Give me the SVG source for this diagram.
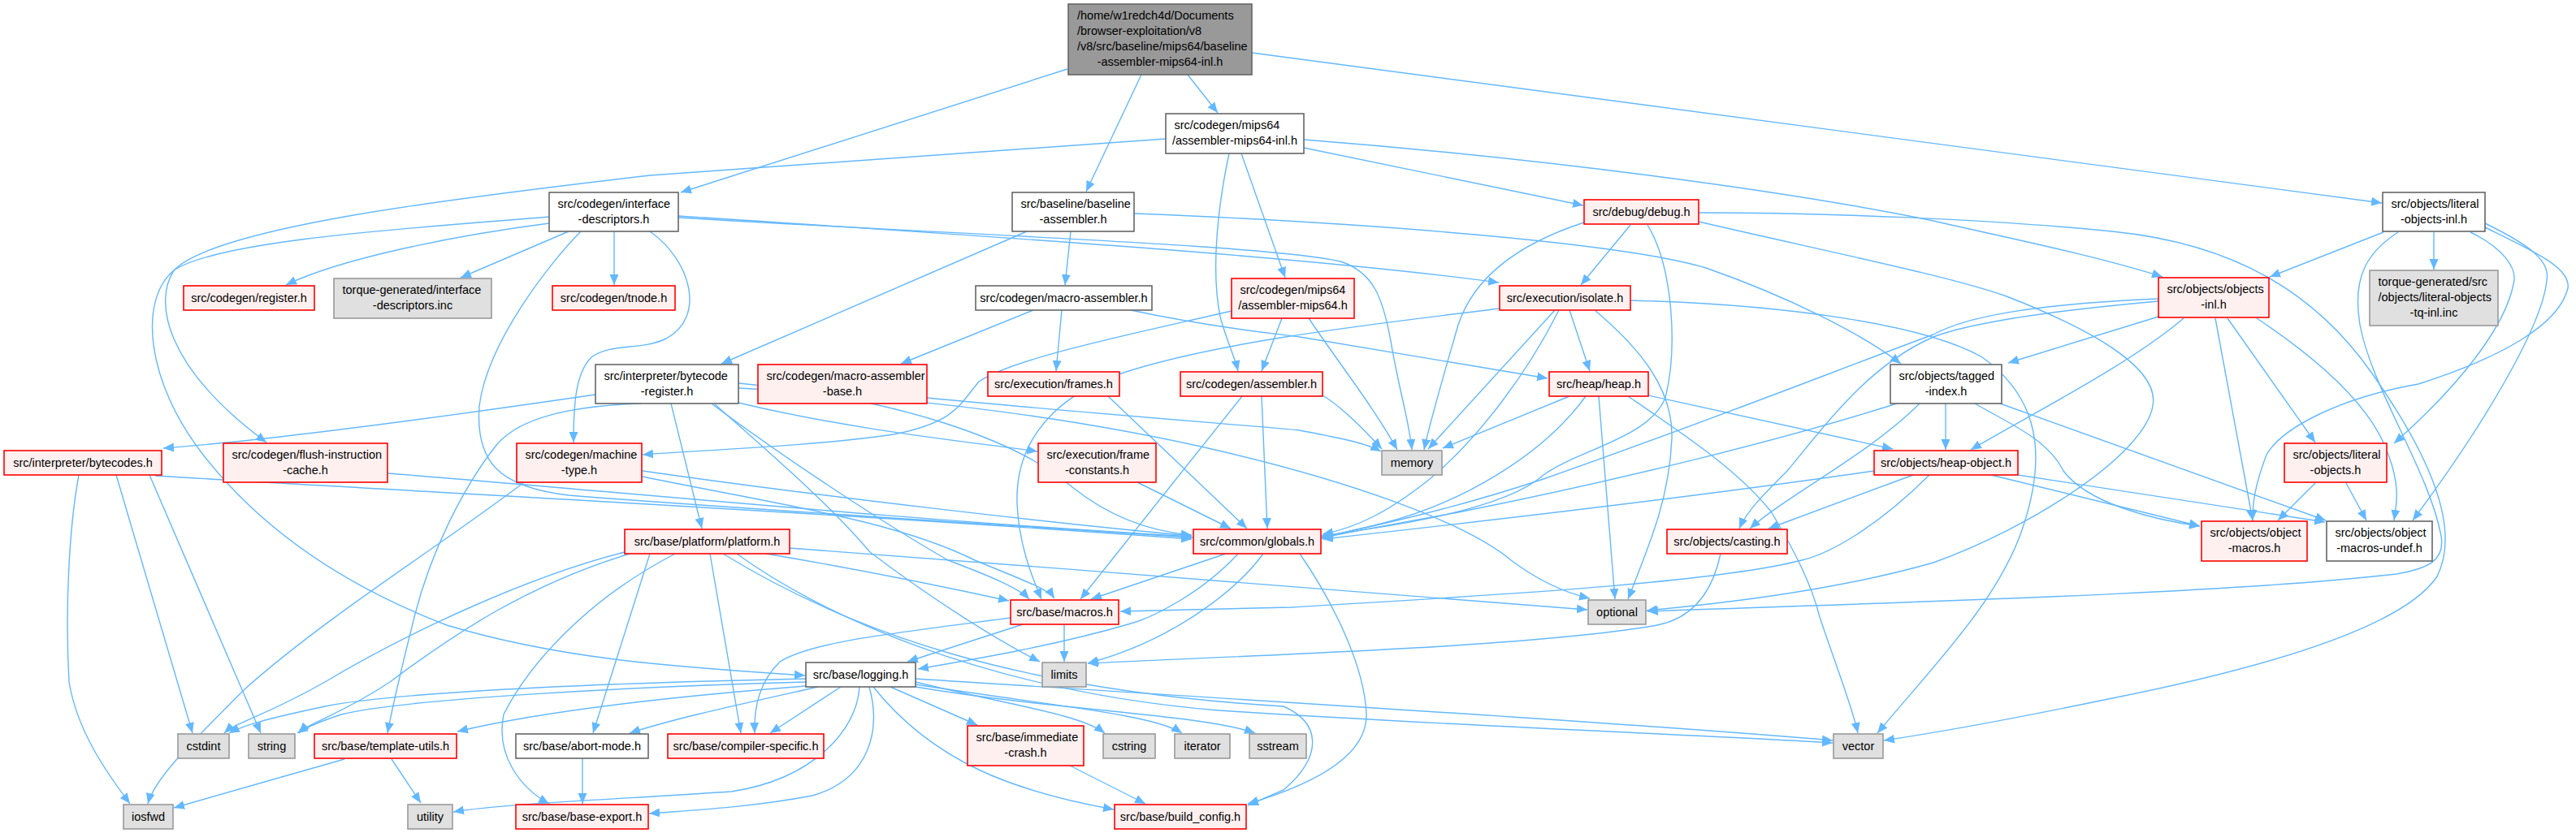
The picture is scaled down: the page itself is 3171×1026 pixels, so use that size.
<svg xmlns="http://www.w3.org/2000/svg" width="3171" height="1026" viewBox="0 0 3171 1026">
<style>
rect{stroke-width:1.6}
.w rect{fill:#ffffff;stroke:#666666}
.r rect{fill:#fff0f0;stroke:#ff0000}
.x rect{fill:#e0e0e0;stroke:#999999}
.root rect{fill:#999999;stroke:#666666}
text{font-family:"Liberation Sans",Arial,sans-serif;font-size:14.5px;fill:#000}
.m{text-anchor:middle}
#edges path{fill:none;stroke:#63b8ff;stroke-width:1.4;marker-end:url(#a)}
</style>
<defs>
<marker id="a" viewBox="0 -6 14 12" refX="13" refY="0" markerWidth="14" markerHeight="12" markerUnits="userSpaceOnUse" orient="auto"><path d="M0,-5.5L13,0L0,5.5z" fill="#63b8ff"/></marker>
</defs>
<rect x="0" y="0" width="3171" height="1026" fill="#ffffff"/>
<g id="edges">
<path d="M1314,85 L838,237"/>
<path d="M1405,92 L1337,236"/>
<path d="M1462,92 L1499,139"/>
<path d="M1541,65 L2932,250"/>
<path d="M1435,171 C1150,190 950,205 800,216 C550,245 265,280 214,333 C190,370 200,450 328,545"/>
<path d="M1513,189 C1500,250 1490,330 1502,390 C1510,420 1520,440 1524,457"/>
<path d="M1528,189 L1582,342"/>
<path d="M1605,182 L1949,253"/>
<path d="M1605,172 C1900,195 2200,235 2380,272 C2480,295 2580,315 2662,341"/>
<path d="M676,275 C560,290 420,318 352,351"/>
<path d="M700,285 L567,342"/>
<path d="M756,285 L756,351"/>
<path d="M800,285 C850,320 870,390 820,417 C790,432 752,422 728,440 C708,460 706,500 706,545"/>
<path d="M715,285 C680,320 600,420 590,500 C585,570 615,600 700,610 C950,630 1300,650 1468,662"/>
<path d="M676,267 C520,280 270,295 214,333 C170,370 180,470 250,560 C320,650 420,720 550,770 C700,815 850,822 991,832"/>
<path d="M835,266 C1200,290 1600,315 1845,348"/>
<path d="M835,268 C1200,290 1560,302 1650,322 C1690,335 1702,365 1712,420 C1722,480 1735,520 1738,554"/>
<path d="M1318,285 L1311,351"/>
<path d="M1264,285 L888,448"/>
<path d="M1396,263 C1700,275 2000,300 2100,330 C2200,365 2290,410 2340,448"/>
<path d="M2007,277 L1946,351"/>
<path d="M1950,274 C1870,300 1815,340 1795,400 C1775,470 1760,520 1753,554"/>
<path d="M2028,277 C2060,330 2065,430 2050,490 C2030,540 1940,555 1900,585 C1850,630 1700,650 1627,660"/>
<path d="M2091,273 C2250,310 2400,340 2470,365 C2560,400 2660,450 2650,500 C2640,560 2500,650 2380,693 C2250,730 2100,745 2027,752"/>
<path d="M2091,262 C2250,262 2450,270 2600,285 C2750,300 2850,360 2920,460 C2990,560 3030,650 3000,710 C2960,770 2800,820 2600,860 C2480,885 2400,900 2319,912"/>
<path d="M2934,286 L2794,341"/>
<path d="M2996,286 L2996,332"/>
<path d="M3041,286 C3080,305 3100,330 3094,350 C3084,400 3033,470 2947,546"/>
<path d="M3059,275 C3110,300 3140,320 3135,345 C3130,400 3060,520 2970,641"/>
<path d="M3059,280 C3120,310 3165,330 3161,355 C3150,400 3080,440 2977,473 C2880,490 2809,527 2790,560 C2775,600 2773,620 2773,641"/>
<path d="M2952,286 C2915,310 2895,340 2905,400 C2920,480 2990,580 3005,660 C3010,690 2990,700 2950,707 C2750,730 2400,740 2028,753"/>
<path d="M2657,390 L2472,447"/>
<path d="M2688,392 C2620,450 2500,510 2426,554"/>
<path d="M2742,392 L2850,545"/>
<path d="M2727,392 L2773,641"/>
<path d="M2778,392 C2850,440 2920,500 2940,560 C2955,600 2950,620 2947,641"/>
<path d="M2657,371 C2500,385 2420,400 2380,415 C2300,450 2250,520 2200,580 C2170,610 2150,630 2141,651"/>
<path d="M2657,368 C2500,375 2420,390 2380,412 C2250,460 2100,520 1900,590 C1780,630 1680,650 1627,662"/>
<path d="M2395,497 L2395,554"/>
<path d="M2335,497 C2200,540 2000,590 1800,630 C1720,645 1660,655 1627,663"/>
<path d="M2363,497 C2300,560 2200,610 2154,651"/>
<path d="M2431,497 C2470,520 2520,540 2540,580 C2570,620 2650,640 2708,648"/>
<path d="M2462,497 L2863,641"/>
<path d="M2307,580 C2100,610 1800,645 1628,664"/>
<path d="M2355,585 L2177,651"/>
<path d="M2375,585 C2320,640 2260,680 2218,690 C2100,720 1800,735 1590,748 L1379,753"/>
<path d="M2451,585 L2708,648"/>
<path d="M2484,585 L2862,643"/>
<path d="M2850,595 L2804,641"/>
<path d="M2888,595 L2913,641"/>
<path d="M2118,682 C2110,720 2090,760 2040,770 C1900,795 1600,805 1339,817"/>
<path d="M1932,488 L1776,552"/>
<path d="M1952,488 C1900,560 1800,620 1700,645 C1670,652 1650,657 1628,661"/>
<path d="M1968,488 L1988,738"/>
<path d="M2004,488 C2080,540 2140,580 2180,630 C2210,680 2230,720 2240,760 C2260,820 2280,870 2287,903"/>
<path d="M2029,487 L2330,553"/>
<path d="M1932,382 L1957,457"/>
<path d="M1914,382 L1758,553"/>
<path d="M1919,382 C1880,460 1820,540 1760,590 C1710,630 1670,650 1628,658"/>
<path d="M1846,380 C1700,398 1500,420 1380,460 C1280,495 1250,560 1252,620 C1254,670 1270,710 1282,738"/>
<path d="M1963,382 C2020,430 2060,480 2058,540 C2055,610 2035,660 2004,738"/>
<path d="M2007,370 C2200,375 2370,400 2440,440 C2510,490 2520,560 2490,650 C2460,740 2380,820 2311,903"/>
<path d="M1272,382 L1109,448"/>
<path d="M1307,382 L1300,457"/>
<path d="M1392,382 C1500,405 1580,412 1600,415 L1905,466"/>
<path d="M1578,392 L1553,457"/>
<path d="M1611,392 C1650,450 1690,500 1720,554"/>
<path d="M1516,383 C1400,410 1250,440 1205,470 C1180,500 1175,520 1100,535 C1000,550 850,555 791,560"/>
<path d="M1628,487 C1650,500 1680,530 1701,553"/>
<path d="M1553,488 L1560,651"/>
<path d="M1529,488 L1330,738"/>
<path d="M1364,488 L1535,651"/>
<path d="M1400,594 L1515,651"/>
<path d="M1141,490 C1350,510 1550,525 1600,530 C1650,540 1680,545 1700,556"/>
<path d="M733,486 C500,520 300,545 201,552"/>
<path d="M909,496 C1050,530 1200,545 1277,556"/>
<path d="M826,497 L864,651"/>
<path d="M790,497 C700,500 640,515 612,547 C570,600 530,680 510,760 C495,820 485,860 477,903"/>
<path d="M877,498 C960,560 1080,640 1167,690 C1220,710 1255,725 1267,738"/>
<path d="M880,498 C950,560 1020,620 1071,680 C1150,740 1230,790 1280,815"/>
<path d="M909,472 C1100,490 1250,540 1320,600 C1370,640 1420,655 1467,659"/>
<path d="M909,478 C1150,490 1350,520 1500,555 C1650,590 1800,640 1860,690 C1900,720 1935,732 1957,737"/>
<path d="M97,585 C85,650 80,750 85,840 C95,900 130,950 160,990"/>
<path d="M143,585 L237,903"/>
<path d="M184,585 L321,903"/>
<path d="M191,586 C500,605 1000,630 1467,664"/>
<path d="M477,583 C700,600 1100,640 1467,661"/>
<path d="M645,594 C560,660 400,760 300,850 C230,920 190,960 182,990"/>
<path d="M791,580 C1000,610 1300,645 1467,660"/>
<path d="M791,587 C950,620 1100,640 1200,690 C1260,715 1290,725 1298,737"/>
<path d="M769,680 C650,710 500,780 400,840 C330,880 290,890 276,903"/>
<path d="M775,682 C650,720 560,780 480,840 C420,880 380,890 368,903"/>
<path d="M800,682 L730,903"/>
<path d="M874,682 L912,903"/>
<path d="M831,682 C720,740 650,820 620,880 C610,930 640,970 676,990"/>
<path d="M943,682 C1050,700 1150,720 1242,740"/>
<path d="M972,675 C1300,700 1700,730 1954,751"/>
<path d="M907,682 C1000,750 1200,850 1500,875 C1800,895 2100,905 2256,915"/>
<path d="M890,682 C1050,780 1250,850 1580,870 C1625,890 1630,930 1580,973 L1536,992"/>
<path d="M1509,682 L1343,738"/>
<path d="M1524,682 C1480,730 1420,760 1392,768 C1300,795 1200,812 1130,824"/>
<path d="M1555,682 C1520,730 1440,790 1339,817"/>
<path d="M1600,682 C1640,740 1680,820 1682,880 C1683,930 1620,965 1536,990"/>
<path d="M1259,769 L1117,815"/>
<path d="M1310,769 L1310,815"/>
<path d="M1244,761 C1100,780 1000,790 960,815 C935,840 928,870 929,903"/>
<path d="M992,836 C800,840 500,850 400,870 C330,885 300,893 282,903"/>
<path d="M992,840 C800,845 500,860 420,880 C390,890 375,897 366,903"/>
<path d="M992,845 C800,860 650,880 563,901"/>
<path d="M1007,846 C900,870 830,885 775,903"/>
<path d="M1035,846 L948,903"/>
<path d="M1058,846 C1055,900 1000,960 900,975 C750,985 620,990 558,1000"/>
<path d="M1070,846 C1085,900 1070,960 1000,980 C920,995 850,998 799,1002"/>
<path d="M1096,846 L1203,893"/>
<path d="M1127,840 C1250,870 1330,880 1360,903"/>
<path d="M1127,843 C1300,870 1420,880 1455,903"/>
<path d="M1127,846 C1300,875 1480,880 1545,903"/>
<path d="M1127,836 C1500,860 2000,890 2256,912"/>
<path d="M1075,846 C1150,940 1250,975 1371,997"/>
<path d="M1317,943 L1410,990"/>
<path d="M424,935 L214,995"/>
<path d="M482,935 L518,989"/>
<path d="M717,934 L717,990"/>
</g>
<g id="n_root" class="root"><rect x="1315" y="5" width="226" height="87"/><text x="1326" y="24">/home/w1redch4d/Documents</text><text x="1326" y="43">/browser-exploitation/v8</text><text x="1326" y="62">/v8/src/baseline/mips64/baseline</text><text x="1428" y="81" class="m">-assembler-mips64-inl.h</text></g>
<g id="n_mips64inl" class="w"><rect x="1435" y="140" width="170" height="49"/><text x="1445.5" y="159">src/codegen/mips64</text><text x="1520" y="178" class="m">/assembler-mips64-inl.h</text></g>
<g id="n_idesc" class="w"><rect x="676" y="237" width="159" height="48"/><text x="686.5" y="256">src/codegen/interface</text><text x="755.5" y="275" class="m">-descriptors.h</text></g>
<g id="n_bassm" class="w"><rect x="1246" y="237" width="150" height="48"/><text x="1256.5" y="256">src/baseline/baseline</text><text x="1321" y="275" class="m">-assembler.h</text></g>
<g id="n_debug" class="r"><rect x="1950" y="246" width="141" height="30"/><text x="2020.5" y="266" class="m">src/debug/debug.h</text></g>
<g id="n_litinl" class="w"><rect x="2933" y="237" width="126" height="48"/><text x="2943.5" y="256">src/objects/literal</text><text x="2996" y="275" class="m">-objects-inl.h</text></g>
<g id="n_objinl" class="r"><rect x="2657" y="342" width="136" height="49"/><text x="2667.5" y="361">src/objects/objects</text><text x="2725" y="380" class="m">-inl.h</text></g>
<g id="n_torquelit" class="x"><rect x="2917" y="333" width="158" height="68"/><text x="2927.5" y="352">torque-generated/src</text><text x="2927.5" y="371">/objects/literal-objects</text><text x="2996" y="390" class="m">-tq-inl.inc</text></g>
<g id="n_register" class="r"><rect x="226" y="352" width="161" height="30"/><text x="306.5" y="372" class="m">src/codegen/register.h</text></g>
<g id="n_torqueid" class="x"><rect x="411" y="343" width="194" height="49"/><text x="421.5" y="362">torque-generated/interface</text><text x="508" y="381" class="m">-descriptors.inc</text></g>
<g id="n_tnode" class="r"><rect x="680" y="352" width="151" height="30"/><text x="755.5" y="372" class="m">src/codegen/tnode.h</text></g>
<g id="n_masm" class="w"><rect x="1201" y="352" width="217" height="30"/><text x="1309.5" y="372" class="m">src/codegen/macro-assembler.h</text></g>
<g id="n_asmmips" class="r"><rect x="1516" y="343" width="151" height="49"/><text x="1526.5" y="362">src/codegen/mips64</text><text x="1591.5" y="381" class="m">/assembler-mips64.h</text></g>
<g id="n_isolate" class="r"><rect x="1846" y="352" width="161" height="30"/><text x="1926.5" y="372" class="m">src/execution/isolate.h</text></g>
<g id="n_bcreg" class="w"><rect x="733" y="449" width="176" height="48"/><text x="743.5" y="468">src/interpreter/bytecode</text><text x="821" y="487" class="m">-register.h</text></g>
<g id="n_masmbase" class="r"><rect x="933" y="449" width="208" height="48"/><text x="943.5" y="468">src/codegen/macro-assembler</text><text x="1037" y="487" class="m">-base.h</text></g>
<g id="n_frames" class="r"><rect x="1216" y="458" width="162" height="30"/><text x="1297" y="478" class="m">src/execution/frames.h</text></g>
<g id="n_cassm" class="r"><rect x="1453" y="458" width="175" height="30"/><text x="1540.5" y="478" class="m">src/codegen/assembler.h</text></g>
<g id="n_heap" class="r"><rect x="1907" y="458" width="122" height="30"/><text x="1968" y="478" class="m">src/heap/heap.h</text></g>
<g id="n_tagged" class="w"><rect x="2327" y="449" width="137" height="48"/><text x="2337.5" y="468">src/objects/tagged</text><text x="2395.5" y="487" class="m">-index.h</text></g>
<g id="n_bytecodes" class="r"><rect x="5" y="555" width="194" height="30"/><text x="102" y="575" class="m">src/interpreter/bytecodes.h</text></g>
<g id="n_flush" class="r"><rect x="275" y="546" width="202" height="48"/><text x="285.5" y="565">src/codegen/flush-instruction</text><text x="376" y="584" class="m">-cache.h</text></g>
<g id="n_mtype" class="r"><rect x="636" y="546" width="154" height="48"/><text x="646.5" y="565">src/codegen/machine</text><text x="713" y="584" class="m">-type.h</text></g>
<g id="n_fconst" class="r"><rect x="1278" y="546" width="145" height="48"/><text x="1288.5" y="565">src/execution/frame</text><text x="1350.5" y="584" class="m">-constants.h</text></g>
<g id="n_memory" class="x"><rect x="1701" y="555" width="74" height="30"/><text x="1738" y="575" class="m">memory</text></g>
<g id="n_heapobj" class="r"><rect x="2307" y="555" width="177" height="30"/><text x="2395.5" y="575" class="m">src/objects/heap-object.h</text></g>
<g id="n_litobj" class="r"><rect x="2812" y="546" width="126" height="48"/><text x="2822.5" y="565">src/objects/literal</text><text x="2875" y="584" class="m">-objects.h</text></g>
<g id="n_platform" class="r"><rect x="769" y="652" width="203" height="30"/><text x="870.5" y="672" class="m">src/base/platform/platform.h</text></g>
<g id="n_globals" class="r"><rect x="1469" y="652" width="157" height="30"/><text x="1547.5" y="672" class="m">src/common/globals.h</text></g>
<g id="n_casting" class="r"><rect x="2052" y="652" width="148" height="30"/><text x="2126" y="672" class="m">src/objects/casting.h</text></g>
<g id="n_objmacros" class="r"><rect x="2710" y="642" width="130" height="49"/><text x="2720.5" y="661">src/objects/object</text><text x="2775" y="680" class="m">-macros.h</text></g>
<g id="n_objundef" class="w"><rect x="2864" y="642" width="130" height="49"/><text x="2874.5" y="661">src/objects/object</text><text x="2929" y="680" class="m">-macros-undef.h</text></g>
<g id="n_macros" class="r"><rect x="1244" y="739" width="133" height="30"/><text x="1310.5" y="759" class="m">src/base/macros.h</text></g>
<g id="n_optional" class="x"><rect x="1955" y="739" width="71" height="30"/><text x="1990.5" y="759" class="m">optional</text></g>
<g id="n_logging" class="w"><rect x="992" y="816" width="135" height="30"/><text x="1059.5" y="836" class="m">src/base/logging.h</text></g>
<g id="n_limits" class="x"><rect x="1283" y="816" width="54" height="30"/><text x="1310" y="836" class="m">limits</text></g>
<g id="n_cstdint" class="x"><rect x="219" y="904" width="63" height="30"/><text x="250.5" y="924" class="m">cstdint</text></g>
<g id="n_string" class="x"><rect x="306" y="904" width="57" height="30"/><text x="334.5" y="924" class="m">string</text></g>
<g id="n_tutils" class="r"><rect x="387" y="904" width="175" height="30"/><text x="474.5" y="924" class="m">src/base/template-utils.h</text></g>
<g id="n_abort" class="w"><rect x="635" y="904" width="163" height="30"/><text x="716.5" y="924" class="m">src/base/abort-mode.h</text></g>
<g id="n_compspec" class="r"><rect x="822" y="904" width="192" height="30"/><text x="918" y="924" class="m">src/base/compiler-specific.h</text></g>
<g id="n_icrash" class="r"><rect x="1191" y="894" width="143" height="49"/><text x="1201.5" y="913">src/base/immediate</text><text x="1262.5" y="932" class="m">-crash.h</text></g>
<g id="n_cstring" class="x"><rect x="1358" y="904" width="64" height="30"/><text x="1390" y="924" class="m">cstring</text></g>
<g id="n_iterator" class="x"><rect x="1446" y="904" width="68" height="30"/><text x="1480" y="924" class="m">iterator</text></g>
<g id="n_sstream" class="x"><rect x="1538" y="904" width="70" height="30"/><text x="1573" y="924" class="m">sstream</text></g>
<g id="n_vector" class="x"><rect x="2257" y="904" width="61" height="30"/><text x="2287.5" y="924" class="m">vector</text></g>
<g id="n_iosfwd" class="x"><rect x="152" y="991" width="61" height="30"/><text x="182.5" y="1011" class="m">iosfwd</text></g>
<g id="n_utility" class="x"><rect x="502" y="991" width="55" height="30"/><text x="529.5" y="1011" class="m">utility</text></g>
<g id="n_bexport" class="r"><rect x="635" y="991" width="163" height="30"/><text x="716.5" y="1011" class="m">src/base/base-export.h</text></g>
<g id="n_bconfig" class="r"><rect x="1372" y="991" width="162" height="30"/><text x="1453" y="1011" class="m">src/base/build_config.h</text></g>
</svg>
